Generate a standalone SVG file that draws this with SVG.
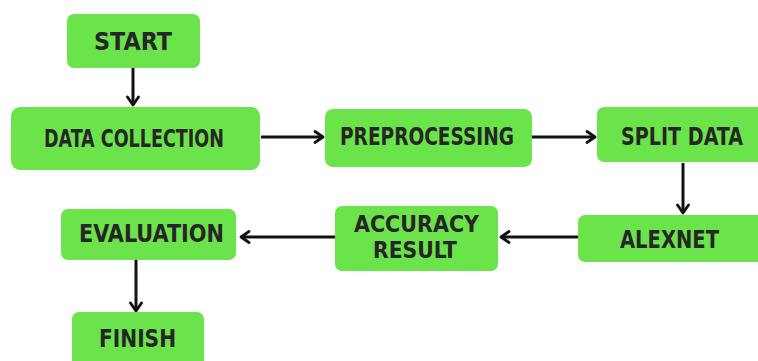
<svg xmlns="http://www.w3.org/2000/svg" width="758" height="361" viewBox="0 0 758 361">
  <defs>
    <marker id="arr" viewBox="0 0 14 14" refX="11" refY="7" markerWidth="14" markerHeight="14" markerUnits="userSpaceOnUse" orient="auto">
      <path d="M3,1.5 L11,7 L3,12.5" fill="none" stroke="#111" stroke-width="2.8" stroke-linecap="round" stroke-linejoin="round"/>
    </marker>
  </defs>
  <style>
    .box { fill: #6be34b; }
    .lbl { font-family: "DejaVu Sans Condensed", "DejaVu Sans", "Liberation Sans", sans-serif; font-weight: bold; font-size: 25px; fill: #262626; }
    .sm { font-size: 23px; }
    .edge { stroke: #111; stroke-width: 3; fill: none; marker-end: url(#arr); }
  </style>
  <rect width="758" height="361" fill="#ffffff"/>

  <g id="edges">
    <line class="edge" x1="133" y1="68" x2="133" y2="105"/>
    <line class="edge" x1="261" y1="137" x2="323" y2="137"/>
    <line class="edge" x1="532" y1="137" x2="595" y2="137"/>
    <line class="edge" x1="683" y1="163" x2="683" y2="213"/>
    <line class="edge" x1="578" y1="237" x2="501" y2="237"/>
    <line class="edge" x1="335" y1="237" x2="241" y2="237"/>
    <line class="edge" x1="136" y1="260" x2="136" y2="311"/>
  </g>

  <g id="start">
    <rect class="box" x="67" y="14" width="133" height="54" rx="7"/>
    <text class="lbl" x="94" y="50" textLength="78" lengthAdjust="spacingAndGlyphs">START</text>
  </g>
  <g id="data-collection">
    <rect class="box" x="11" y="107" width="249" height="63" rx="9"/>
    <text class="lbl" x="44" y="147" textLength="180" lengthAdjust="spacingAndGlyphs">DATA COLLECTION</text>
  </g>
  <g id="preprocessing">
    <rect class="box" x="325" y="109" width="207" height="58" rx="8"/>
    <text class="lbl" x="340" y="145" textLength="174" lengthAdjust="spacingAndGlyphs">PREPROCESSING</text>
  </g>
  <g id="split-data">
    <rect class="box" x="597" y="107" width="170" height="55" rx="7"/>
    <text class="lbl" x="621" y="145" textLength="122" lengthAdjust="spacingAndGlyphs">SPLIT DATA</text>
  </g>
  <g id="alexnet">
    <rect class="box" x="578" y="215" width="190" height="47" rx="7"/>
    <text class="lbl" x="620" y="248" textLength="99" lengthAdjust="spacingAndGlyphs">ALEXNET</text>
  </g>
  <g id="accuracy-result">
    <rect class="box" x="335" y="206" width="163" height="65" rx="7"/>
    <text class="lbl sm" x="354" y="232" textLength="125" lengthAdjust="spacingAndGlyphs">ACCURACY</text>
    <text class="lbl sm" x="373" y="258" textLength="84" lengthAdjust="spacingAndGlyphs">RESULT</text>
  </g>
  <g id="evaluation">
    <rect class="box" x="61" y="209" width="175" height="51" rx="7"/>
    <text class="lbl" x="79" y="242" textLength="145" lengthAdjust="spacingAndGlyphs">EVALUATION</text>
  </g>
  <g id="finish">
    <rect class="box" x="72" y="312" width="132" height="60" rx="7"/>
    <text class="lbl" x="99" y="347" textLength="77" lengthAdjust="spacingAndGlyphs">FINISH</text>
  </g>
</svg>
